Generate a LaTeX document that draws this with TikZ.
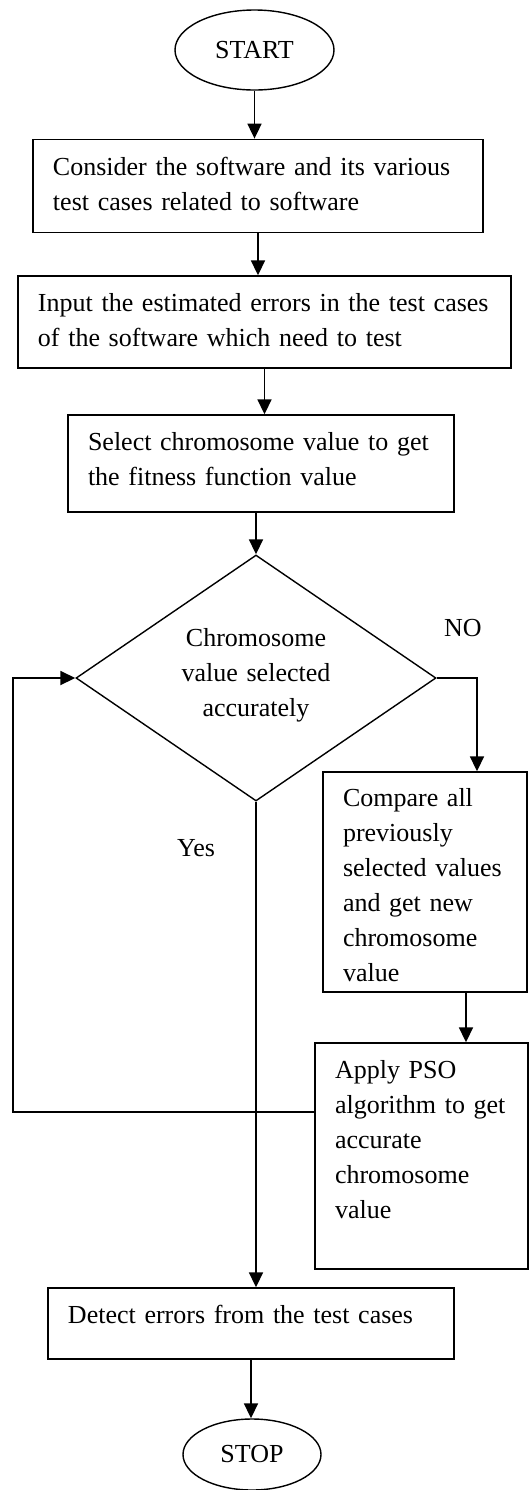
\documentclass[tikz,border=0pt]{standalone}
\usepackage{fontspec}
\setmainfont{Liberation Serif}
\usetikzlibrary{shapes.geometric,arrows.meta}
\tikzset{
  stepbox/.style={draw, line width=0.7pt, rectangle, align=left, inner xsep=10pt, inner ysep=1pt, text height=10pt},
  term/.style={draw, line width=0.7pt, ellipse, inner sep=0pt},
  decide/.style={draw, line width=0.7pt, diamond, aspect=1.46, inner sep=0pt, align=center, text width=90pt, text height=10pt},
  arr/.style={line width=0.9pt, -{Triangle[length=7.5pt,width=7pt]}},
}
\begin{document}
\begin{tikzpicture}[x=0.5pt, y=-0.5pt, font=\fontsize{13}{17.5}\selectfont]
        \useasboundingbox (0,0) rectangle (530,1490);

        \node [term, minimum width=79.5pt, minimum height=40pt] (start) at (254.5,50) {START};
        \node [stepbox, text width=205pt, minimum height=46.5pt, text depth=20.8pt] (cons) at (258,185.8) {Consider the software and its various\\test cases related to software};
        \node [stepbox, text width=226.5pt, minimum height=46pt, text depth=20.3pt] (input) at (264.5,322) {Input the estimated errors in the test cases\\of the software which need to test};
        \node [stepbox, text width=173pt, minimum height=48.5pt, text depth=22.8pt] (sel) at (261,463.5) {Select chromosome value to get\\the fitness function value};
        \node [decide, minimum width=180pt, minimum height=123pt, text depth=41.4pt] (dec) at (256,678) {Chromosome\\value selected\\accurately};
        \node [anchor=base] (no) at (463,636.7) {NO};
        \node [stepbox, text width=82pt, minimum height=110pt, text depth=85.4pt] (cmp) at (425,882) {Compare all\\previously\\selected values\\and get new\\chromosome\\value};
        \node [anchor=base] (yes) at (196,856.7) {Yes};
        \node [stepbox, text width=86.5pt, minimum height=113pt, text depth=88pt] (pso) at (421.5,1156) {Apply PSO\\algorithm to get\\accurate\\chromosome\\value};
        \node [stepbox, text width=183pt, minimum height=35.5pt, text depth=10pt] (det) at (251,1323.5) {Detect errors from the test cases};
        \node [term, minimum width=69pt, minimum height=35.5pt] (stop) at (252,1454.5) {STOP};
        \coordinate (back) at (13,1112);

        \draw [arr] (start.south) -- (start.south |- cons.north);
        \draw [arr] (cons.south) -- (cons.south |- input.north);
        \draw [arr] (input.south) -- (input.south |- sel.north);
        \draw [arr] (sel.south -| dec.north) -- (dec.north);
        \draw [arr] (dec.east) -| ([xshift=26pt]cmp.north);
        \draw [arr] ([xshift=20.5pt]cmp.south) -- ([xshift=20.5pt]cmp.south |- pso.north);
        \draw [arr] (pso.west |- back) -- (back) |- (dec.west);
        \draw [arr] (dec.south) -- (dec.south |- det.north);
        \draw [arr] (det.south) -- (det.south |- stop.north);
    \end{tikzpicture}
\end{document}
